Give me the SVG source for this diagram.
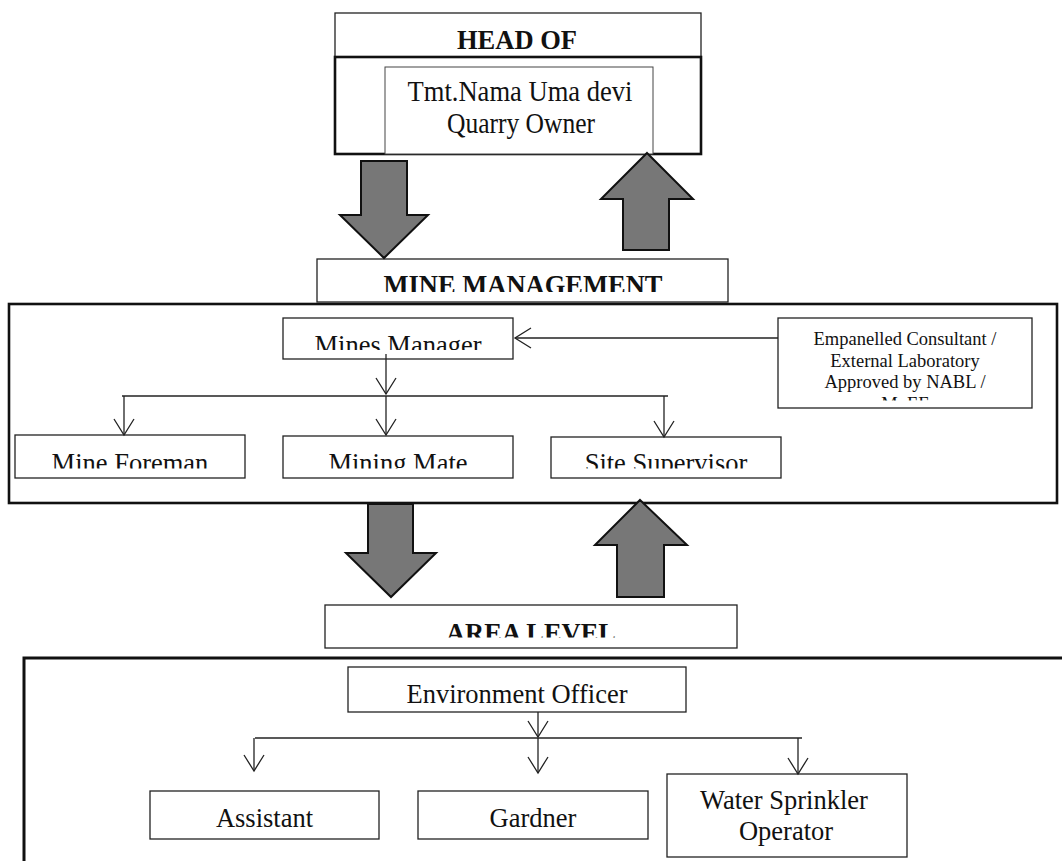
<svg xmlns="http://www.w3.org/2000/svg" width="1062" height="861" viewBox="0 0 1062 861">
<style>
.box{fill:#fff;stroke:#222;stroke-width:1.3}
.frame{fill:none;stroke:#111;stroke-width:2.6}
.big{fill:#777;stroke:#111;stroke-width:2}
.t{font-family:"Liberation Serif","Times New Roman",serif;font-size:26.5px;fill:#111;text-anchor:middle}
.b{font-family:"Liberation Serif","Times New Roman",serif;font-size:26.5px;font-weight:bold;fill:#111;text-anchor:middle}
.s{font-family:"Liberation Serif","Times New Roman",serif;font-size:18.5px;fill:#111;text-anchor:middle}
.ln{fill:none;stroke:#222;stroke-width:1.3}
</style>
<defs>
<marker id="v" markerUnits="userSpaceOnUse" markerWidth="20" markerHeight="24" viewBox="0 0 20 24" refX="18" refY="12" orient="auto">
<path d="M2,2 L18,12 L2,22" fill="none" stroke="#222" stroke-width="1.3"/>
</marker>
<clipPath id="cMM"><rect x="317" y="259" width="411" height="33"/></clipPath>
<clipPath id="cMgr"><rect x="283" y="318" width="230" height="32"/></clipPath>
<clipPath id="cRow"><rect x="0" y="436" width="1062" height="32.5"/></clipPath>
<clipPath id="cCons"><rect x="778" y="318" width="254" height="82.5"/></clipPath>
<clipPath id="cArea"><rect x="325" y="605" width="412" height="32.5"/></clipPath>
</defs>

<g id="head-of">
<rect class="box" x="335" y="13" width="366" height="44"/>
<text class="b" x="517" y="49">HEAD OF</text>
</g>
<g id="head-frame">
<rect class="frame" x="335" y="57" width="366" height="97"/>
</g>
<g id="owner">
<rect class="box" x="385" y="67" width="268" height="87" style="stroke:#444;stroke-width:1"/>
<text class="t" x="520" y="101" style="font-size:29px" textLength="225" lengthAdjust="spacingAndGlyphs">Tmt.Nama Uma devi</text>
<text class="t" x="521" y="133" style="font-size:29px" textLength="148" lengthAdjust="spacingAndGlyphs">Quarry Owner</text>
</g>

<g id="mine-management">
<rect class="box" x="317" y="259" width="411" height="43"/>
<text class="b" x="523" y="294" clip-path="url(#cMM)">MINE MANAGEMENT</text>
</g>
<g id="mine-frame">
<rect class="frame" x="9" y="304" width="1048" height="199"/>
</g>
<g id="mines-manager">
<rect class="box" x="283" y="318" width="230" height="41"/>
<text class="t" x="398" y="353.5" clip-path="url(#cMgr)">Mines Manager</text>
</g>
<g id="consultant">
<rect class="box" x="778" y="318" width="254" height="90"/>
<g clip-path="url(#cCons)">
<text class="s" x="905" y="345">Empanelled Consultant /</text>
<text class="s" x="905" y="367">External Laboratory</text>
<text class="s" x="905" y="388">Approved by NABL /</text>
<text class="s" x="905" y="409.5">MoEF</text>
</g>
</g>
<g id="mine-foreman">
<rect class="box" x="15" y="435" width="230" height="43"/>
<text class="t" x="130" y="471.5" clip-path="url(#cRow)">Mine Foreman</text>
</g>
<g id="mining-mate">
<rect class="box" x="283" y="436" width="230" height="42"/>
<text class="t" x="398" y="471.5" clip-path="url(#cRow)">Mining Mate</text>
</g>
<g id="site-supervisor">
<rect class="box" x="551" y="437" width="230" height="41"/>
<text class="t" x="666" y="471.5" clip-path="url(#cRow)">Site Supervisor</text>
</g>

<g id="area-level">
<rect class="box" x="325" y="605" width="412" height="43"/>
<text class="b" x="531" y="642" clip-path="url(#cArea)">AREA LEVEL</text>
</g>
<g id="area-frame">
<path class="frame" d="M24,861 V658 H1062" style="stroke-width:3"/>
</g>
<g id="environment-officer">
<rect class="box" x="348" y="667" width="338" height="45"/>
<text class="t" x="517" y="703">Environment Officer</text>
</g>
<g id="assistant">
<rect class="box" x="150" y="791" width="229" height="48"/>
<text class="t" x="264.5" y="827">Assistant</text>
</g>
<g id="gardner">
<rect class="box" x="418" y="791" width="230" height="48"/>
<text class="t" x="533" y="827">Gardner</text>
</g>
<g id="water-sprinkler-operator">
<rect class="box" x="667" y="774" width="240" height="83"/>
<text class="t" x="784" y="809">Water Sprinkler</text>
<text class="t" x="786" y="840">Operator</text>
</g>

<g id="connectors">
<polygon class="big" points="361,161 407,161 407,215 428,215 384,258 340,215 361,215"/>
<polygon class="big" points="647,153 693,199 669,199 669,250 623,250 623,199 601,199"/>
<polygon class="big" points="368,504 413,504 413,553 436,553 391,597 346,553 368,553"/>
<polygon class="big" points="640,500 687,545 664,545 664,597 617,597 617,545 595,545"/>

<line class="ln" x1="778" y1="338" x2="515" y2="338" marker-end="url(#v)"/>
<line class="ln" x1="386" y1="354" x2="386" y2="394" marker-end="url(#v)"/>
<line class="ln" x1="122" y1="396" x2="668" y2="396"/>
<line class="ln" x1="386" y1="396" x2="386" y2="435" marker-end="url(#v)"/>
<line class="ln" x1="124" y1="396" x2="124" y2="435" marker-end="url(#v)"/>
<line class="ln" x1="664" y1="396" x2="664" y2="437" marker-end="url(#v)"/>

<line class="ln" x1="538" y1="712" x2="538" y2="737" marker-end="url(#v)"/>
<line class="ln" x1="255" y1="738" x2="802" y2="738"/>
<line class="ln" x1="254" y1="738" x2="254" y2="771" marker-end="url(#v)"/>
<line class="ln" x1="538" y1="738" x2="538" y2="773" marker-end="url(#v)"/>
<line class="ln" x1="798" y1="738" x2="798" y2="774" marker-end="url(#v)"/>
</g>
</svg>
